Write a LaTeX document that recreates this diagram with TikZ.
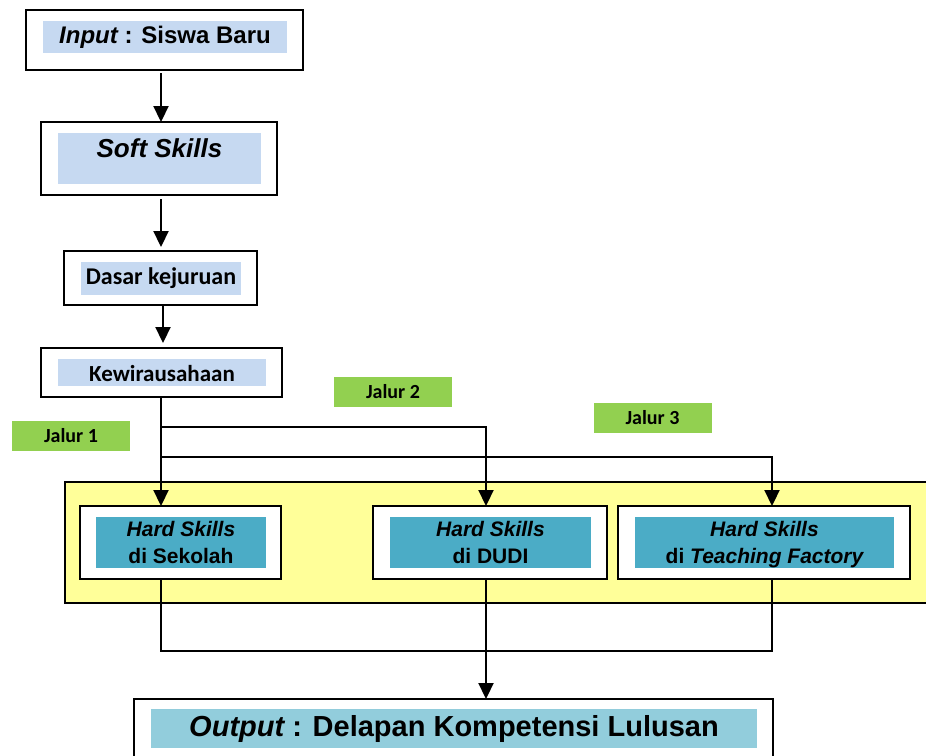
\documentclass[tikz,border=0pt]{standalone}
\usepackage{fontspec}
\setmainfont{Liberation Sans}
\newfontfamily\calfont{Carlito}
\usetikzlibrary{arrows.meta}
\definecolor{lblue}{HTML}{C6D9F1}
\definecolor{teal2}{HTML}{4BACC6}
\definecolor{outblue}{HTML}{92CDDC}
\definecolor{ylw}{HTML}{FFFF99}
\definecolor{grn}{HTML}{92D050}
\tikzset{
  outerbox/.style={draw, line width=2pt, fill=white, inner sep=0pt, outer sep=0pt},
  innerbox/.style={inner sep=0pt, outer sep=0pt, fill=lblue},
  hsbox/.style={inner sep=0pt, outer sep=0pt, fill=teal2, align=center, minimum height=51pt,
    font=\fontsize{21}{27}\selectfont\bfseries},
  jalur/.style={fill=grn, inner sep=0pt, minimum width=118pt, minimum height=30pt,
    font=\calfont\fontsize{20}{24}\selectfont\bfseries},
  arr/.style={line width=2.2pt, -{Triangle[length=16pt,width=15pt]}},
  ln/.style={line width=2.2pt}
}
\begin{document}
\begin{tikzpicture}[x=1pt,y=-1pt]
\useasboundingbox (0,0) rectangle (926,755);
\clip (0,0) rectangle (926,755);
% yellow container
\node[draw, line width=2.5pt, fill=ylw, minimum width=880pt, minimum height=121pt, inner sep=0pt] (yb) at (505,542.5) {};
% top flow
\node[outerbox, minimum width=277pt, minimum height=60pt] (inbox) at (164.5,40) {};
\node[innerbox, minimum width=244pt, text height=22pt, text depth=10pt, anchor=north,
  font=\fontsize{24}{28}\selectfont\bfseries] (intext) at (165,21) {\itshape Input\upshape{} : Siswa Baru};
\node[outerbox, minimum width=236pt, minimum height=73pt] (softbox) at (159,158.5) {};
\node[innerbox, minimum width=203pt, text height=24pt, text depth=27pt, anchor=north,
  font=\fontsize{26}{30}\selectfont\bfseries\itshape] (softtext) at (159.5,133) {Soft Skills};
\node[outerbox, minimum width=193pt, minimum height=54pt] (dasbox) at (160.5,278) {};
\node[innerbox, minimum width=160pt, text height=22pt, text depth=11pt, anchor=north,
  font=\calfont\fontsize{24}{28}\selectfont\bfseries] (dastext) at (161,262) {Dasar kejuruan};
\node[outerbox, minimum width=241pt, minimum height=49pt] (kwbox) at (161.5,372.5) {};
\node[innerbox, minimum width=208pt, text height=22pt, text depth=5pt, anchor=north,
  font=\calfont\fontsize{23}{27}\selectfont\bfseries] (kwtext) at (162,359) {Kewirausahaan};
% jalur labels
\node[jalur] (j1lab) at (71,436) {Jalur 1};
\node[jalur] (j2lab) at (393,392) {Jalur 2};
\node[jalur] (j3lab) at (652.5,418) {Jalur 3};
% hard skills boxes
\node[outerbox, minimum width=201pt, minimum height=73pt] (hs1) at (180.5,542.5) {};
\node[hsbox, minimum width=170pt] (hs1t) at (181,542.5) {\itshape Hard Skills\\di Sekolah};
\node[outerbox, minimum width=234pt, minimum height=73pt] (hs2) at (490,542.5) {};
\node[hsbox, minimum width=201pt] (hs2t) at (490.5,542.5) {\itshape Hard Skills\\di DUDI};
\node[outerbox, minimum width=292pt, minimum height=73pt] (hs3) at (764,542.5) {};
\node[hsbox, minimum width=259pt, text depth=0pt] (hs3t) at (764.5,542.5) {\itshape Hard Skills\\di \itshape Teaching Factory};
% output
\node[outerbox, minimum width=639pt, minimum height=76pt] (outbox) at (453.5,737) {};
\node[innerbox, fill=outblue, minimum width=606pt, text height=27pt, text depth=12pt, anchor=north,
  font=\fontsize{29}{33}\selectfont\bfseries] (outtext) at (454,709) {\itshape Output\upshape{} : Delapan Kompetensi Lulusan};
% connectors
\coordinate (c1) at (161,0);
\coordinate (c2) at (486,0);
\coordinate (c3) at (772,0);
\coordinate (j2) at (161,427);
\coordinate (j3) at (161,457);
\coordinate (m1) at (161,651);
\draw[arr, shorten <=3pt] (inbox.south -| c1) -- (softbox.north -| c1);
\draw[arr, shorten <=4pt, shorten >=4pt] (softbox.south -| c1) -- (dasbox.north -| c1);
\draw[arr, shorten >=5pt] ([xshift=2pt]dasbox.south -| c1) -- ([xshift=2pt]kwbox.north -| c1);
\draw[arr] (kwbox.south -| c1) -- (hs1.north -| c1);
\draw[arr] (j2) -| (hs2.north -| c2);
\draw[arr] (j3) -| (hs3.north -| c3);
\draw[ln] (hs1.south -| c1) -- (m1) -- (m1 -| c3) -- (hs3.south -| c3);
\draw[arr] (hs2.south -| c2) -- (outbox.north -| c2);
\end{tikzpicture}
\end{document}
